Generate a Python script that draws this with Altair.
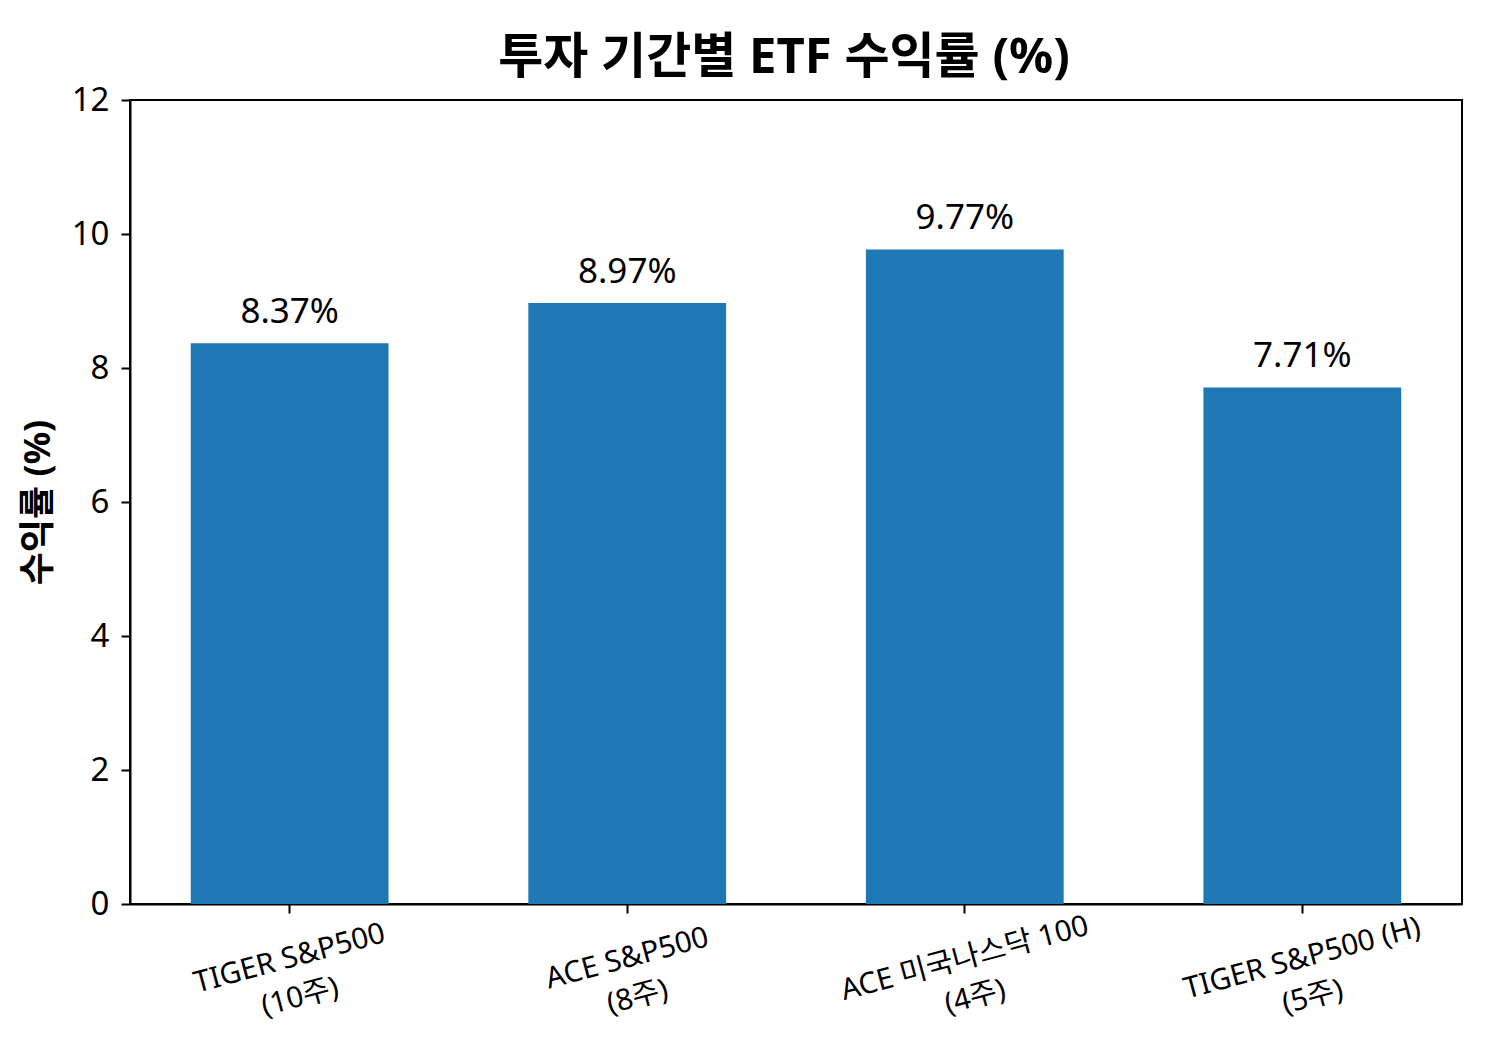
import altair as alt
import pandas as pd

etf_names = ["TIGER S&P500", "ACE S&P500", "ACE 미국나스닥 100", "TIGER S&P500 (H)"]
periods = ["(10주)", "(8주)", "(4주)", "(5주)"]
returns = [8.37, 8.97, 9.77, 7.71]
y_ticks = [0, 2, 4, 6, 8, 10, 12]

FONT = '"Noto Sans", "Noto Sans CJK KR", sans-serif'

df = pd.DataFrame({
    "ETF": [f"{n}\n{p}" for n, p in zip(etf_names, periods)],
    "수익률": returns,
    "라벨": [f"{v:.2f}%" for v in returns],
})

x_enc = alt.X(
    "ETF:N",
    sort=None,
    title=None,
    scale=alt.Scale(paddingInner=0.414, paddingOuter=0.18),
    axis=alt.Axis(
        labelAngle=345,
        labelAlign="center",
        labelBaseline="middle",
        labelPadding=45,
        labelFontSize=29.5,
        labelLineHeight=40,
        labelLimit=0,
        labelOverlap=False,
        labelBound=False,
        labelExpr="split(datum.label, '\\n')",
        tickSize=9,
    ),
)

y_enc = alt.Y(
    "수익률:Q",
    title="수익률 (%)",
    scale=alt.Scale(domain=[0, 12], nice=False),
    axis=alt.Axis(
        values=y_ticks,
        format="d",
        labelFontSize=33,
        labelPadding=12,
        tickSize=9,
        titleFontSize=36,
        titleFontWeight="bold",
        titleX=-92,
        titleY=402,
        titleAngle=270,
        titleAlign="center",
        titleBaseline="middle",
    ),
)

bars = alt.Chart(df).mark_bar(color="#1f77b4").encode(x=x_enc, y=y_enc)

labels = alt.Chart(df).mark_text(
    dy=-20, baseline="alphabetic", fontSize=35, font=FONT, color="black"
).encode(x=alt.X("ETF:N", sort=None), y=alt.Y("수익률:Q"), text="라벨:N")

chart = (
    alt.layer(bars, labels)
    .properties(
        width=1332,
        height=804,
        title=alt.TitleParams(
            "투자 기간별 ETF 수익률 (%)",
            fontSize=49,
            fontWeight="bold",
            font=FONT,
            color="black",
            anchor="middle",
            baseline="alphabetic",
            offset=22,
            dx=-12,
            dy=60,
        ),
        autosize=alt.AutoSizeParams(type="none"),
        padding={"left": 122, "top": 92, "right": 14, "bottom": 135},
    )
    .configure_view(stroke="black", strokeWidth=2)
    .configure_axis(
        grid=False,
        domainColor="black",
        domainWidth=2,
        tickColor="black",
        tickWidth=2,
        labelColor="black",
        titleColor="black",
        labelFont=FONT,
        titleFont=FONT,
    )
)

chart.save("out.html", embed_options={"renderer": "svg", "actions": False})
